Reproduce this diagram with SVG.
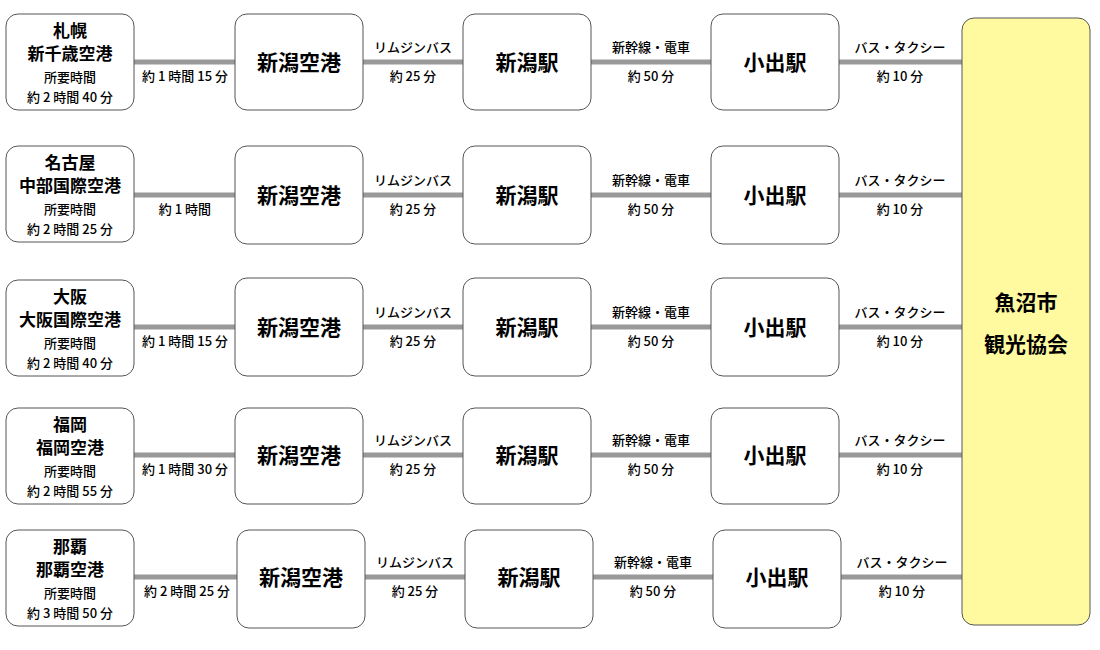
<svg xmlns="http://www.w3.org/2000/svg" width="1100" height="650" viewBox="0 0 1100 650">
<style>
text{font-family:"Noto Sans CJK JP","Liberation Sans",sans-serif;text-anchor:middle;fill:#000}
.n{fill:#fff;stroke:#555;stroke-width:1}
.big{font-size:21px;font-weight:bold}
.org{font-size:17px;font-weight:bold}
.sm{font-size:13px;font-weight:500}
.ln{stroke:#999;stroke-width:5}
</style>
<rect width="1100" height="650" fill="#fff"/>
<g id="connectors">
<line class="ln" x1="134" y1="62" x2="962" y2="62"/>
<line class="ln" x1="134" y1="195" x2="962" y2="195"/>
<line class="ln" x1="134" y1="327" x2="962" y2="327"/>
<line class="ln" x1="134" y1="455" x2="962" y2="455"/>
<line class="ln" x1="134" y1="577" x2="962" y2="577"/>
<g class="sm">
<text x="185" y="81">約 1 時間 15 分</text>
<text x="185" y="214">約 1 時間</text>
<text x="185" y="346">約 1 時間 15 分</text>
<text x="185" y="474">約 1 時間 30 分</text>
<text x="187" y="596">約 2 時間 25 分</text>
<text x="413" y="52">リムジンバス</text><text x="413" y="81">約 25 分</text>
<text x="413" y="185">リムジンバス</text><text x="413" y="214">約 25 分</text>
<text x="413" y="317">リムジンバス</text><text x="413" y="346">約 25 分</text>
<text x="413" y="445">リムジンバス</text><text x="413" y="474">約 25 分</text>
<text x="415" y="567">リムジンバス</text><text x="415" y="596">約 25 分</text>
<text x="651" y="52">新幹線・電車</text><text x="651" y="81">約 50 分</text>
<text x="651" y="185">新幹線・電車</text><text x="651" y="214">約 50 分</text>
<text x="651" y="317">新幹線・電車</text><text x="651" y="346">約 50 分</text>
<text x="651" y="445">新幹線・電車</text><text x="651" y="474">約 50 分</text>
<text x="653" y="567">新幹線・電車</text><text x="653" y="596">約 50 分</text>
<text x="900" y="52">バス・タクシー</text><text x="900" y="81">約 10 分</text>
<text x="900" y="185">バス・タクシー</text><text x="900" y="214">約 10 分</text>
<text x="900" y="317">バス・タクシー</text><text x="900" y="346">約 10 分</text>
<text x="900" y="445">バス・タクシー</text><text x="900" y="474">約 10 分</text>
<text x="902" y="567">バス・タクシー</text><text x="902" y="596">約 10 分</text>
</g>
</g>
<g id="o1"><rect class="n" x="6" y="14" width="128" height="96" rx="12"/><text class="org" x="70" y="37">札幌</text><text class="org" x="70" y="60">新千歳空港</text><text class="sm" x="70" y="82">所要時間</text><text class="sm" x="70" y="102">約 2 時間 40 分</text></g>
<g id="o2"><rect class="n" x="6" y="146" width="128" height="96" rx="12"/><text class="org" x="70" y="169">名古屋</text><text class="org" x="70" y="192">中部国際空港</text><text class="sm" x="70" y="214">所要時間</text><text class="sm" x="70" y="234">約 2 時間 25 分</text></g>
<g id="o3"><rect class="n" x="6" y="280" width="128" height="96" rx="12"/><text class="org" x="70" y="303">大阪</text><text class="org" x="70" y="326">大阪国際空港</text><text class="sm" x="70" y="348">所要時間</text><text class="sm" x="70" y="368">約 2 時間 40 分</text></g>
<g id="o4"><rect class="n" x="6" y="408" width="128" height="96" rx="12"/><text class="org" x="70" y="431">福岡</text><text class="org" x="70" y="454">福岡空港</text><text class="sm" x="70" y="476">所要時間</text><text class="sm" x="70" y="496">約 2 時間 55 分</text></g>
<g id="o5"><rect class="n" x="6" y="530" width="128" height="96" rx="12"/><text class="org" x="70" y="553">那覇</text><text class="org" x="70" y="576">那覇空港</text><text class="sm" x="70" y="598">所要時間</text><text class="sm" x="70" y="618">約 3 時間 50 分</text></g>
<g id="a1"><rect class="n" x="235" y="14" width="128" height="96" rx="12"/><text class="big" x="299" y="70">新潟空港</text></g>
<g id="a2"><rect class="n" x="235" y="146" width="128" height="98" rx="12"/><text class="big" x="299" y="203">新潟空港</text></g>
<g id="a3"><rect class="n" x="235" y="278" width="128" height="98" rx="12"/><text class="big" x="299" y="335">新潟空港</text></g>
<g id="a4"><rect class="n" x="235" y="408" width="128" height="96" rx="12"/><text class="big" x="299" y="463">新潟空港</text></g>
<g id="a5"><rect class="n" x="237" y="530" width="128" height="98" rx="12"/><text class="big" x="301" y="585">新潟空港</text></g>
<g id="s1"><rect class="n" x="463" y="14" width="128" height="96" rx="12"/><text class="big" x="527" y="70">新潟駅</text></g>
<g id="s2"><rect class="n" x="463" y="146" width="128" height="98" rx="12"/><text class="big" x="527" y="203">新潟駅</text></g>
<g id="s3"><rect class="n" x="463" y="278" width="128" height="98" rx="12"/><text class="big" x="527" y="335">新潟駅</text></g>
<g id="s4"><rect class="n" x="463" y="408" width="128" height="96" rx="12"/><text class="big" x="527" y="463">新潟駅</text></g>
<g id="s5"><rect class="n" x="465" y="530" width="128" height="98" rx="12"/><text class="big" x="529" y="585">新潟駅</text></g>
<g id="k1"><rect class="n" x="711" y="14" width="128" height="96" rx="12"/><text class="big" x="775" y="70">小出駅</text></g>
<g id="k2"><rect class="n" x="711" y="146" width="128" height="98" rx="12"/><text class="big" x="775" y="203">小出駅</text></g>
<g id="k3"><rect class="n" x="711" y="278" width="128" height="98" rx="12"/><text class="big" x="775" y="335">小出駅</text></g>
<g id="k4"><rect class="n" x="711" y="408" width="128" height="96" rx="12"/><text class="big" x="775" y="463">小出駅</text></g>
<g id="k5"><rect class="n" x="713" y="530" width="128" height="98" rx="12"/><text class="big" x="777" y="585">小出駅</text></g>
<g id="dest"><rect x="962" y="18" width="128" height="607" rx="12" fill="#fff9a0" stroke="#555"/><text class="big" x="1026" y="310">魚沼市</text><text class="big" x="1026" y="352">観光協会</text></g>
</svg>
